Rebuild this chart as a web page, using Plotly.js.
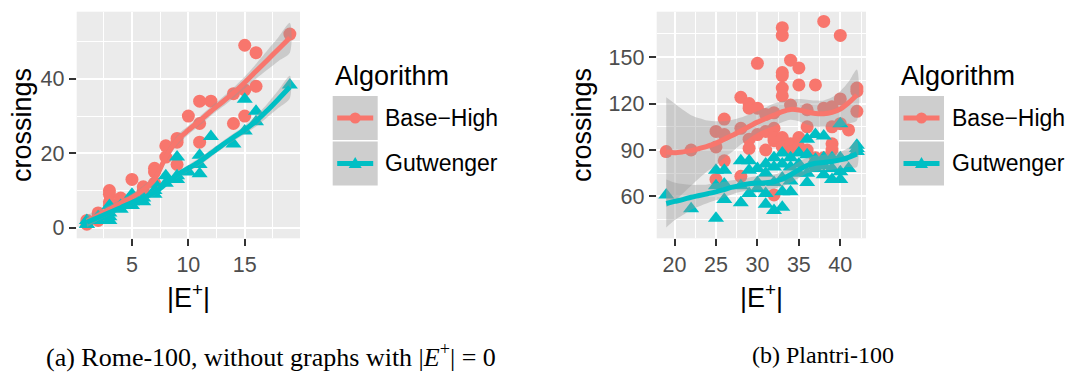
<!DOCTYPE html>
<html>
<head>
<meta charset="utf-8">
<script src="https://cdn.plot.ly/plotly-3.0.1.min.js"></script>
<style>
  html, body { margin: 0; padding: 0; background: #ffffff; }
  #chart { width: 1068px; height: 373px; }
</style>
</head>
<body>
<div id="chart"></div>
<script>
// ---------- Rome-100 (graphs with |E+| > 0) ----------
const romeBaseX = [1, 1, 2, 2, 2, 3, 3, 3, 3, 4, 4, 5, 5, 6, 6, 7, 7, 7, 8, 8, 9, 9, 9, 10, 11, 11, 11, 12, 14, 14, 15, 15, 15, 16, 16, 19];
const romeBaseY = [2, 1, 4, 2, 3, 10, 9, 7, 6, 8, 7, 13, 8, 11, 10, 16, 15, 12, 22, 19, 24, 23, 17, 30, 34, 28, 23, 34, 36, 28, 49, 37, 30, 47, 38, 52];

const romeGutX = [1, 1, 1, 2, 2, 3, 3, 3, 3, 4, 4, 5, 5, 5, 6, 6, 7, 7, 7, 8, 8, 9, 9, 9, 10, 11, 11, 11, 12, 14, 15, 15, 16, 16, 19];
const romeGutY = [1, 2, 1, 2, 3, 6, 4, 3, 2, 5, 6, 9, 7, 6, 8, 7, 12, 10, 9, 14, 12, 19, 14, 13, 15, 19.5, 17, 14.5, 24.5, 22.5, 34.5, 26, 31.3, 28.5, 38.3];

// loess fit with its confidence band, per |E+|
const romeFitX      = [1, 2, 3, 4, 5, 6, 7, 8, 9, 10, 11, 12, 13, 14, 15, 16, 17, 18, 19];
const romeBaseFit   = [1.8, 3.3, 5.0, 6.6, 8.2, 10.2, 13.0, 19.0, 23.5, 26.2, 28.7, 31.3, 33.7, 36.2, 39.0, 42.0, 45.0, 48.0, 51.0];
const romeBaseHi    = [3.5, 4.6, 6.1, 7.6, 9.2, 11.3, 14.2, 20.3, 24.8, 27.4, 29.9, 32.5, 35.0, 37.6, 40.6, 44.0, 47.6, 51.2, 55.0];
const romeBaseLo    = [0.1, 2.0, 3.9, 5.6, 7.2, 9.1, 11.8, 17.7, 22.2, 25.0, 27.5, 30.1, 32.4, 34.8, 37.4, 40.0, 42.4, 44.8, 47.0];
const romeGutFit    = [1.5, 2.8, 4.1, 5.4, 6.8, 8.1, 9.5, 11.8, 14.2, 16.0, 17.8, 20.0, 22.2, 24.3, 26.3, 28.6, 31.5, 34.6, 37.8];
const romeGutHi     = [2.6, 3.6, 4.8, 6.1, 7.5, 8.8, 10.3, 12.6, 15.0, 16.9, 18.8, 21.0, 23.2, 25.3, 27.4, 30.0, 33.3, 37.0, 40.8];
const romeGutLo     = [0.4, 2.0, 3.4, 4.7, 6.1, 7.4, 8.7, 11.0, 13.4, 15.1, 16.8, 19.0, 21.2, 23.3, 25.2, 27.2, 29.7, 32.2, 34.8];

// ---------- Plantri-100 ----------
const plantriBaseX = [19, 22, 25, 25, 25, 26, 26, 26, 28, 28, 28, 29, 29, 29, 29, 30, 30, 30, 31, 31, 31,
                      32, 32, 32, 32, 32, 33, 33, 33, 33, 33, 33, 33, 33, 34, 34, 34, 34, 35, 35, 35, 35,
                      36, 36, 36, 37, 37, 38, 38, 38, 39, 39, 39, 39, 40, 40, 40, 41, 42, 42, 42];
const plantriBaseY = [89, 90, 102, 92, 71, 110, 100, 83, 124, 104, 73, 120, 117, 97, 91, 146, 117, 100, 113, 102, 90,
                      114, 104, 96, 98, 61, 169, 164, 140, 138, 130, 125, 98, 92, 148, 119, 94, 89, 143, 132, 98, 92,
                      116, 105, 90, 132, 85, 173, 117, 85, 118, 105, 94, 90, 164, 123, 107, 103, 130, 128, 115];

const plantriGutX = [19, 22, 25, 25, 25, 26, 26, 26, 28, 28, 28, 29, 29, 29, 30, 30, 30, 31, 31, 31, 31,
                     32, 32, 32, 32, 33, 33, 33, 33, 33, 34, 34, 34, 34, 35, 35, 35, 36, 36, 36, 36,
                     37, 37, 37, 37, 38, 38, 38, 38, 39, 39, 39, 40, 40, 40, 40, 41, 42, 42, 42];
const plantriGutY = [61, 52, 77, 67, 46, 77, 68, 58, 83, 67, 56, 83, 77, 62, 78, 69, 65, 81, 75, 62, 55,
                     85, 79, 69, 51, 88, 81, 72, 63, 53, 85, 79, 70, 63, 88, 81, 75, 97, 87, 75, 69,
                     100, 84, 80, 78, 99, 85, 80, 74, 85, 78, 71, 107, 85, 76, 71, 78, 93, 91, 89];

const plantriFitX    = [19, 20, 21, 22, 23, 24, 25, 26, 27, 28, 29, 30, 31, 32, 33, 34, 35, 36, 37, 38, 39, 40, 41, 42];
const plantriBaseFit = [88.7, 88.3, 88.8, 89.6, 91.0, 92.5, 94.3, 97.0, 99.5, 102.3, 105.2, 108.0, 110.3, 112.5, 114.8, 116.2, 115.8, 114.5, 113.6, 113.4, 114.3, 116.5, 120.5, 125.5];
const plantriBaseHi  = [124, 120, 116, 112.5, 110.5, 109, 108.5, 108.5, 109.5, 111, 113, 115, 117.5, 120, 121.5, 122.5, 123, 122.5, 122, 122, 124, 128, 134, 142];
const plantriBaseLo  = [53, 57, 62, 67, 72, 76.5, 80, 85, 89, 93.5, 97.5, 101, 103.5, 105.5, 108, 109.5, 108.5, 106.5, 105, 105, 105, 105, 107, 109];
const plantriGutFit  = [55.5, 56.8, 58.0, 59.5, 60.6, 61.8, 63.0, 64.5, 66.0, 67.2, 68.2, 68.7, 68.8, 69.5, 71.3, 74.0, 77.2, 80.0, 81.5, 82.0, 82.6, 83.6, 85.2, 87.5];
const plantriGutHi   = [71, 69, 68, 67.5, 67.5, 67.8, 68.5, 69.5, 70.5, 71.5, 72.3, 73, 73.3, 74, 76, 79, 82.5, 85, 86.5, 87, 88, 89, 91.5, 96];
const plantriGutLo   = [40, 44.6, 48, 51.5, 53.7, 55.8, 57.5, 59.5, 61.5, 63, 64, 64.4, 64.3, 65, 66.6, 69, 72, 75, 76.5, 77, 77.2, 78.2, 79, 79];

const algorithms = ['Base\u2212High', 'Gutwenger'];
const captions = ['(a) Rome-100, without graphs with |<i>E</i><sup>+</sup>| = 0', '(b) Plantri-100'];

// ---------- styling ----------
const RED = '#F8766D', TEAL = '#00BFC4';
const BAND = 'rgba(153,153,153,0.4)';
const W = 1068, H = 373;
const fx = v => v / W;
const fy = v => 1 - v / H;
const SANS = 'Liberation Sans, Arial, sans-serif';
const SERIF = 'Liberation Serif, Times New Roman, serif';

function pointsTrace(x, y, color, symbol, size, xa, ya) {
  return { type: 'scatter', mode: 'markers', x: x, y: y, xaxis: xa, yaxis: ya,
           marker: { color: color, symbol: symbol, size: size, line: { width: 0 } },
           hoverinfo: 'skip', showlegend: false };
}
function bandTrace(x, lo, hi, xa, ya) {
  const xs = x.concat(x.slice().reverse());
  const ys = hi.concat(lo.slice().reverse());
  return { type: 'scatter', mode: 'lines', x: xs, y: ys, xaxis: xa, yaxis: ya,
           fill: 'toself', fillcolor: BAND, line: { width: 0, shape: 'spline', smoothing: 0.8 },
           hoverinfo: 'skip', showlegend: false };
}
function fitTrace(x, y, color, xa, ya) {
  return { type: 'scatter', mode: 'lines', x: x, y: y, xaxis: xa, yaxis: ya,
           line: { color: color, width: 5, shape: 'spline', smoothing: 0.8 },
           hoverinfo: 'skip', showlegend: false };
}

const traces = [
  pointsTrace(romeBaseX, romeBaseY, RED, 'circle', 13, 'x', 'y'),
  pointsTrace(romeGutX, romeGutY, TEAL, 'triangle-up', 14, 'x', 'y'),
  bandTrace(romeFitX, romeBaseLo, romeBaseHi, 'x', 'y'),
  fitTrace(romeFitX, romeBaseFit, RED, 'x', 'y'),
  bandTrace(romeFitX, romeGutLo, romeGutHi, 'x', 'y'),
  fitTrace(romeFitX, romeGutFit, TEAL, 'x', 'y'),

  pointsTrace(plantriBaseX, plantriBaseY, RED, 'circle', 13, 'x2', 'y2'),
  pointsTrace(plantriGutX, plantriGutY, TEAL, 'triangle-up', 14, 'x2', 'y2'),
  bandTrace(plantriFitX, plantriBaseLo, plantriBaseHi, 'x2', 'y2'),
  fitTrace(plantriFitX, plantriBaseFit, RED, 'x2', 'y2'),
  bandTrace(plantriFitX, plantriGutLo, plantriGutHi, 'x2', 'y2'),
  fitTrace(plantriFitX, plantriGutFit, TEAL, 'x2', 'y2')
];

function axis(domain, anchor, range, dtick, minorDtick) {
  return {
    domain: domain, anchor: anchor, range: range, tick0: 0, dtick: dtick,
    ticks: 'outside', ticklen: 7, tickwidth: 2, tickcolor: '#333333',
    tickfont: { family: SANS, size: 21.5, color: '#4D4D4D' },
    showgrid: true, gridcolor: '#FFFFFF', gridwidth: 2,
    minor: { dtick: minorDtick, tick0: 0, showgrid: true, gridcolor: '#FFFFFF', gridwidth: 1, ticks: '' },
    zeroline: false, showline: false, fixedrange: true
  };
}

const yDom = [fy(238.3), fy(11.7)];

const annotations = [];
function label(x, y, text, size, opts) {
  annotations.push(Object.assign({
    xref: 'paper', yref: 'paper', x: fx(x), y: fy(y), text: text, showarrow: false,
    xanchor: 'center', yanchor: 'middle',
    font: { family: SANS, size: size, color: '#000000' }
  }, opts || {}));
}

// axis titles
label(22, 125, 'crossings', 27, { textangle: -90 });
label(582, 125, 'crossings', 27, { textangle: -90 });
label(188.5, 296, '|E<sup>+</sup>|', 27);
label(761, 296, '|E<sup>+</sup>|', 27);

// legends, one beside each panel
const shapes = [];
function legend(left) {
  label(left, 76, 'Algorithm', 27, { xanchor: 'left' });
  const rows = [[96, 140], [141.5, 185.5]];
  const colors = [RED, TEAL];
  rows.forEach(function (r, i) {
    const cy = (r[0] + r[1]) / 2;
    shapes.push({ type: 'rect', xref: 'paper', yref: 'paper',
                  x0: fx(left), x1: fx(left + 45), y0: fy(r[1]), y1: fy(r[0]),
                  fillcolor: '#CECECE', line: { width: 0 }, layer: 'above' });
    shapes.push({ type: 'line', xref: 'paper', yref: 'paper',
                  x0: fx(left + 4.5), x1: fx(left + 40.5), y0: fy(cy), y1: fy(cy),
                  line: { color: colors[i], width: 5 }, layer: 'above' });
    const cx = left + 22.5;
    if (i === 0) {
      shapes.push({ type: 'circle', xref: 'paper', yref: 'paper',
                    x0: fx(cx - 5.5), x1: fx(cx + 5.5), y0: fy(cy + 5.5), y1: fy(cy - 5.5),
                    fillcolor: colors[i], line: { width: 0 }, layer: 'above' });
    } else {
      const p = 'M ' + fx(cx - 6.5) + ' ' + fy(cy + 4.5) + ' L ' + fx(cx + 6.5) + ' ' + fy(cy + 4.5) +
                ' L ' + fx(cx) + ' ' + fy(cy - 6.5) + ' Z';
      shapes.push({ type: 'path', xref: 'paper', yref: 'paper', path: p,
                    fillcolor: colors[i], line: { width: 0 }, layer: 'above' });
    }
    label(left + 50.5, cy, algorithms[i], 23, { xanchor: 'left' });
  });
}
legend(332.7);
legend(899);

// sub-figure captions
label(271, 355, captions[0], 26, { font: { family: SERIF, size: 26, color: '#000000' } });
label(822.5, 355, captions[1], 24, { font: { family: SERIF, size: 24, color: '#000000' } });

const layout = {
  width: W, height: H,
  margin: { l: 0, r: 0, t: 0, b: 0, pad: 0 },
  paper_bgcolor: '#FFFFFF', plot_bgcolor: '#EBEBEB',
  font: { family: SANS, color: '#000000' },
  showlegend: false,
  xaxis:  axis([fx(76.7), fx(300)], 'y', [0.1, 19.9], 5, 2.5),
  yaxis:  axis(yDom, 'x', [-2.8, 58], 20, 10),
  xaxis2: axis([fx(656.7), fx(866)], 'y2', [17.85, 43.1], 5, 2.5),
  yaxis2: axis(yDom, 'x2', [33, 179.3], 30, 15),
  annotations: annotations,
  shapes: shapes
};

Plotly.newPlot('chart', traces, layout, { staticPlot: true, displayModeBar: false });
</script>
</body>
</html>
